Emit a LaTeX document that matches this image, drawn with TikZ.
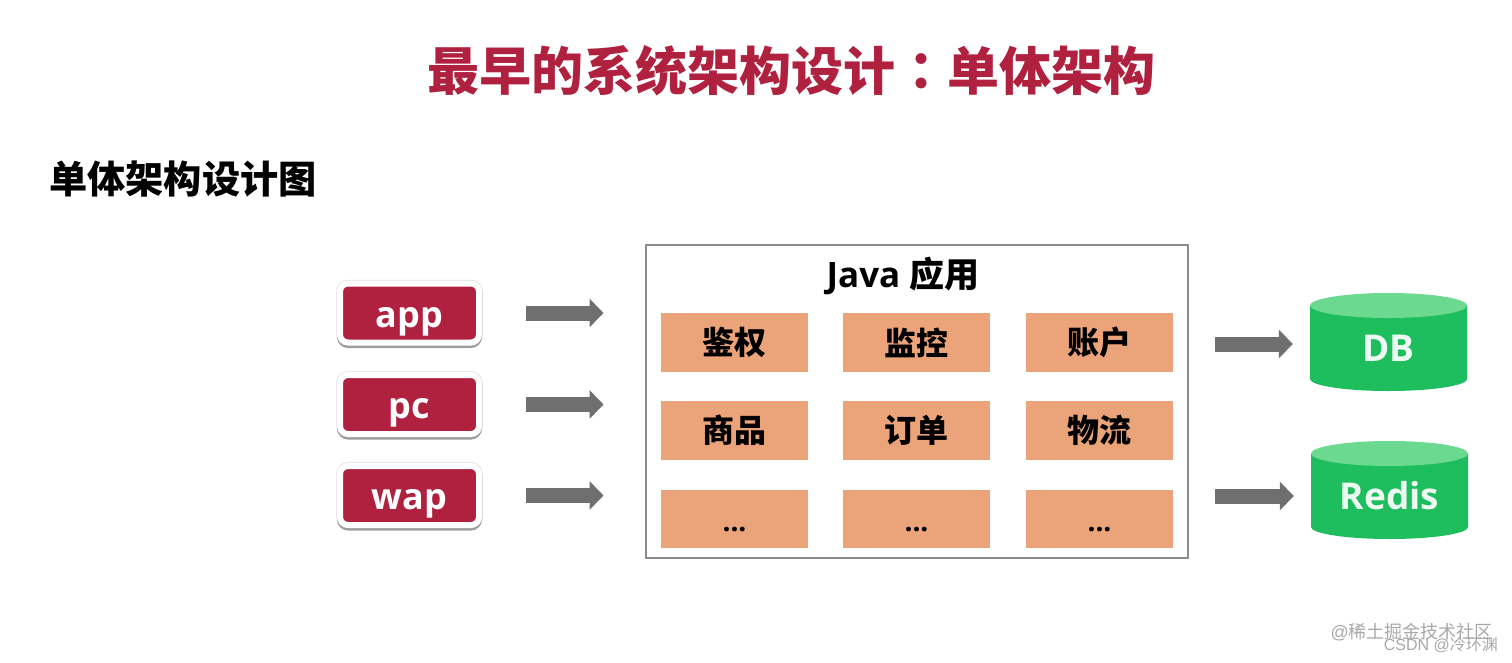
\documentclass[tikz,border=0pt]{standalone}
\usepackage{fontspec}
\setmainfont{Open Sans}
\newfontfamily\cjk{Noto Sans CJK SC}
\newfontfamily\cjktc{Noto Sans CJK TC}
\newfontfamily\wm{Liberation Sans}
\usetikzlibrary{arrows.meta}
\definecolor{crimson}{HTML}{B0213F}
\definecolor{peach}{HTML}{EBA379}
\definecolor{arrowgray}{HTML}{6F6F6F}
\definecolor{framegray}{HTML}{8C8C8C}
\definecolor{dbgreen}{HTML}{1EBE5E}
\definecolor{dbtop}{HTML}{6BD98F}
\definecolor{wmgray}{HTML}{A8A8A8}
\tikzset{
  x=1pt,y=-1pt,
  clientbox/.style={draw=white,line width=6pt,fill=crimson,rounded corners=8pt,minimum width=139pt,minimum height=59pt,
    inner sep=0pt,text=white,text height=32pt,text depth=4pt,font=\fontsize{36}{36}\selectfont\bfseries,
    preaction={draw=black!12,line width=7.5pt},
    preaction={draw=black!38,line width=6pt,transform canvas={yshift=-2.5pt}}},
  cellbox/.style={fill=peach,minimum width=147pt,minimum height=58.5pt,inner sep=0pt,text=black,
    font=\fontsize{32}{32}\selectfont\cjk\bfseries},
  dotsbox/.style={cellbox,text height=24pt,text depth=0pt,font=\fontsize{28}{28}\selectfont\bfseries},
  framebox/.style={draw=framegray,line width=2pt,fill=white,minimum width=542pt,minimum height=313pt,inner sep=0pt},
  dblabel/.style={minimum width=157pt,minimum height=98pt,inner sep=0pt,text height=44pt,text depth=6pt,
    text=white!92!dbgreen,font=\fontsize{37}{37}\selectfont\bfseries},
  blockarrow/.style={draw=arrowgray,line width=15pt,-{Triangle[length=14pt,width=28pt]}},
  wmtext/.style={text=wmgray,inner sep=0pt,anchor=east,font=\fontsize{#1}{#1}\selectfont\wm},
}
\newcommand{\dbdrum}[2]{%
  \fill[dbgreen] (#1-78.5,#2-36.5) -- (#1-78.5,#2+37) arc[start angle=180,end angle=360,x radius=78.5pt,y radius=12pt] -- (#1+78.5,#2-36.5) -- cycle;
  \fill[dbtop] (#1,#2-36.5) ellipse[x radius=78.5pt,y radius=12.5pt];
}
\begin{document}
\begin{tikzpicture}
\useasboundingbox (0,0) rectangle (1512,662);
\node[text=crimson,font=\fontsize{52}{52}\selectfont\cjk\bfseries,inner sep=0pt] (title) at (791.5,71) {最早的系统架构设计{\cjktc ：}单体架构};
\node[text=black,font=\fontsize{38.2}{38.2}\selectfont\cjk\bfseries,inner sep=0pt,anchor=west] (sub) at (49,179) {单体架构设计图};
\node[clientbox] (app) at (409.5,313) {app};
\node[clientbox] (pc) at (409.5,404.5) {pc};
\node[clientbox] (wap) at (409.5,495.5) {wap};
\node[framebox] (java) at (916.5,401) {};
\node[inner sep=0pt,font=\fontsize{35}{35}\selectfont\bfseries] (jt) at (903,276) {Java {\cjk 应用}};
\node[cellbox] (c11) at (734.5,342.5) {鉴权};
\node[cellbox] (c12) at (916.5,342.5) {监控};
\node[cellbox] (c13) at (1099.5,342.5) {账户};
\node[cellbox] (c21) at (734.5,430.5) {商品};
\node[cellbox] (c22) at (916.5,430.5) {订单};
\node[cellbox] (c23) at (1099.5,430.5) {物流};
\node[dotsbox] (c31) at (734.5,519) {...};
\node[dotsbox] (c32) at (916.5,519) {...};
\node[dotsbox] (c33) at (1099.5,519) {...};
\dbdrum{1388.5}{342}
\dbdrum{1389.5}{490}
\node[dblabel] (db) at (1388.5,342) {DB};
\node[dblabel] (redis) at (1389.5,490) {Redis};
\draw[blockarrow,shorten <=44pt,shorten >=41pt] (app.east) -- (app.east -| java.west);
\draw[blockarrow,shorten <=44pt,shorten >=41pt] (pc.east) -- (pc.east -| java.west);
\draw[blockarrow,shorten <=44pt,shorten >=41pt] (wap.east) -- (wap.east -| java.west);
\coordinate (dbfrom) at (java.east |- 0,344);
\coordinate (redisfrom) at (java.east |- 0,496);
\draw[blockarrow,shorten <=26pt,shorten >=17pt] (dbfrom) -- (dbfrom -| db.west);
\draw[blockarrow,shorten <=26pt,shorten >=17pt] (redisfrom) -- (redisfrom -| redis.west);
\node[wmtext=18] (w1) at (1493,632) {@{\cjk 稀土掘金技术社区}};
\node[wmtext=16] (w2) at (1498,645) {CSDN @{\cjk 冷环渊}};
\end{tikzpicture}
\end{document}
